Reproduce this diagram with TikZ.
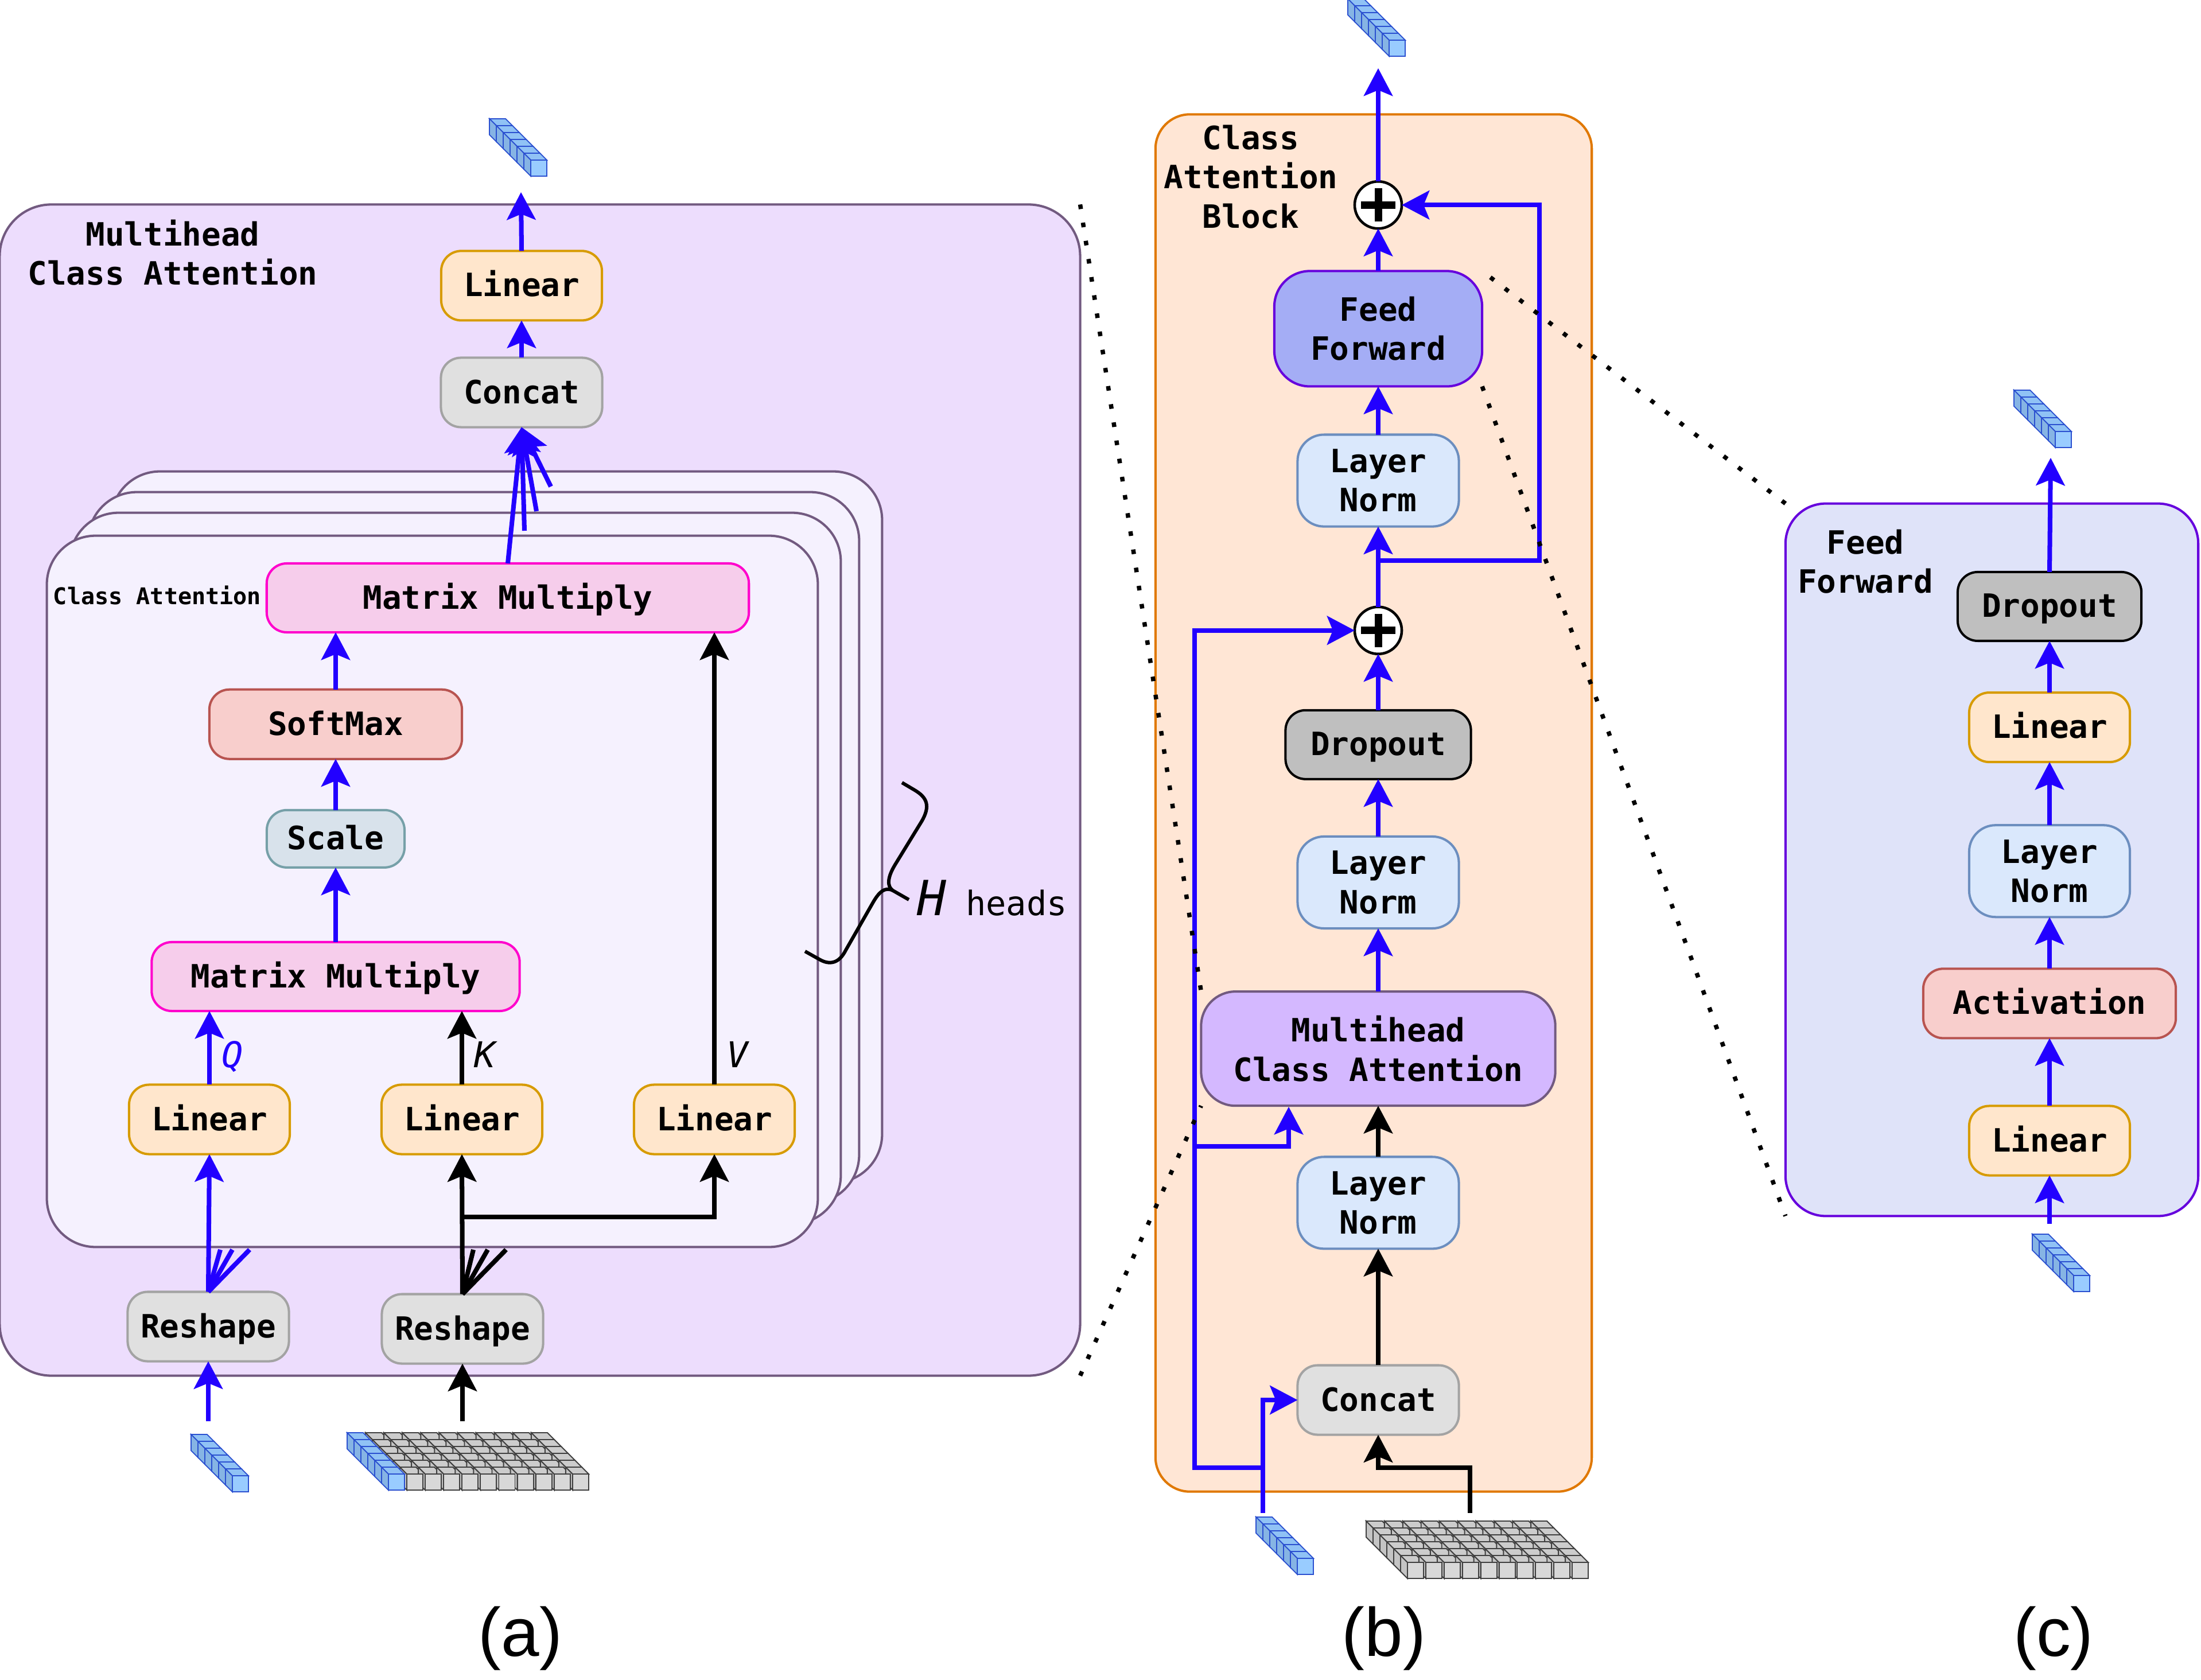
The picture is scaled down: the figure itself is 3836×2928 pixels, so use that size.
\documentclass[tikz,border=0pt]{standalone}
\usepackage{fontspec}
\usepackage{xcolor}
\usetikzlibrary{arrows.meta, positioning}
\newfontfamily\boxfont{DejaVu Sans Mono}
\newfontfamily\capfont{Liberation Sans}
\definecolor{flowblue}{HTML}{2200FF}
\definecolor{outerfill}{HTML}{EDDDFD}
\definecolor{outerline}{HTML}{725A80}
\definecolor{headfill}{HTML}{F5F1FE}
\definecolor{blockfill}{HTML}{FFE6D5}
\definecolor{blockline}{HTML}{E07800}
\definecolor{ffpanel}{HTML}{DFE3F9}
\definecolor{ffline}{HTML}{6600DD}
\definecolor{ffbox}{HTML}{A4ADF5}
\definecolor{mhbox}{HTML}{D4B8FF}
\definecolor{linfill}{HTML}{FFE6CC}
\definecolor{linline}{HTML}{D79B00}
\definecolor{grayfill}{HTML}{E0E0E0}
\definecolor{grayline}{HTML}{A3A3A3}
\definecolor{dropfill}{HTML}{BFBFBF}
\definecolor{mmfill}{HTML}{F6CDEB}
\definecolor{mmline}{HTML}{FF00CC}
\definecolor{softfill}{HTML}{F8CECC}
\definecolor{softline}{HTML}{B85450}
\definecolor{scalefill}{HTML}{D8E2EB}
\definecolor{scaleline}{HTML}{76A0A8}
\definecolor{normfill}{HTML}{DAE8FC}
\definecolor{normline}{HTML}{6C8EBF}
\definecolor{bluetop}{HTML}{90C2F5}
\definecolor{blueside}{HTML}{86B4E4}
\definecolor{bluefront}{HTML}{99CCFF}
\definecolor{blueedge}{HTML}{2B50D0}
\definecolor{graytop}{HTML}{CCCCCC}
\definecolor{grayside}{HTML}{C4C4C4}
\definecolor{grayfront}{HTML}{D8D8D8}
\definecolor{grayedge}{HTML}{404040}

\begin{document}
\begin{tikzpicture}[
  x=0.01cm, y=-0.01cm,
  every node/.style={outer sep=0pt},
  panel/.style={draw, line width=1.15pt, inner sep=0pt},
  box/.style={draw, line width=1.15pt, rounded corners=0.35cm, align=center, inner sep=0pt, font=\boxfont\bfseries\fontsize{15.9}{19.4}\selectfont},
  oneline/.style={text height=0.38cm, text depth=0pt},
  linearbox/.style={box, oneline, fill=linfill, draw=linline, minimum width=2.8cm, minimum height=1.21cm},
  graybox/.style={box, oneline, fill=grayfill, draw=grayline, minimum width=2.81cm, minimum height=1.21cm},
  mmbox/.style={box, oneline, fill=mmfill, draw=mmline, minimum height=1.2cm},
  redbox/.style={box, oneline, fill=softfill, draw=softline, minimum height=1.21cm},
  dropbox/.style={box, oneline, fill=dropfill, draw=black, minimum height=1.2cm},
  normbox/.style={box, fill=normfill, draw=normline, rounded corners=0.46cm, minimum width=2.81cm, minimum height=1.6cm},
  sumnode/.style={circle, draw, fill=white, line width=1.3pt, minimum size=0.82cm, inner sep=0pt,
    path picture={
      \draw[line width=3.7pt] ([xshift=-0.3cm]path picture bounding box.center) -- ([xshift=0.3cm]path picture bounding box.center);
      \draw[line width=3.7pt] ([yshift=-0.29cm]path picture bounding box.center) -- ([yshift=0.29cm]path picture bounding box.center);
    }},
  flow/.style={-{Stealth[length=4.8mm, width=5mm, inset=1mm]}, draw=flowblue, line width=2.28pt},
  flowk/.style={-{Stealth[length=4.8mm, width=5mm, inset=1mm]}, draw=black, line width=2.28pt},
  wire/.style={draw=flowblue, line width=2.28pt},
  wirek/.style={draw=black, line width=2.28pt},
  zoomline/.style={draw=black, line width=0.075cm, dash pattern=on 0.08cm off 0.24cm},
  title/.style={align=center, font=\boxfont\bfseries\fontsize{15.9}{19.4}\selectfont},
  letter/.style={font=\boxfont\itshape\fontsize{17.6}{20}\selectfont},
  subcap/.style={font=\capfont\fontsize{34}{38}\selectfont},
  pics/cubecol/.style={code={
    \foreach \k in {0,...,5} {
      \filldraw[fill=#1top, draw=#1edge, line width=0.5pt] (12*\k,12*\k) -- ++(28,0) -- ++(12,12) -- ++(-28,0) -- cycle;
      \filldraw[fill=#1side, draw=#1edge, line width=0.5pt] (12*\k,12*\k) -- ++(12,12) -- ++(0,28) -- ++(-12,-12) -- cycle;
    }
    \filldraw[fill=#1front, draw=#1edge, line width=0.5pt] (72,72) rectangle (100,100);
  }},
  pics/cubegrid/.style 2 args={code={
    \foreach \k in {0,...,5} {
      \foreach \c in {1,...,#1} {
        \filldraw[fill=grayside, draw=grayedge, line width=0.55pt] ({(\c-1)*#2+12*\k},12*\k) -- ++(12,12) -- ++(0,28) -- ++(-12,-12) -- cycle;
        \filldraw[fill=graytop, draw=grayedge, line width=0.55pt] ({(\c-1)*#2+12*\k},12*\k) -- ++(28,0) -- ++(12,12) -- ++(-28,0) -- cycle;
      }
    }
    \foreach \c in {1,...,#1} {
      \filldraw[fill=grayfront, draw=grayedge, line width=0.55pt] ({(\c-1)*#2+72},72) rectangle ++(28,28);
    }
  }}
]
  \path[use as bounding box, fill=white] (0,0) rectangle (3836,2928);

  \node[panel, fill=outerfill, draw=outerline, rounded corners=0.9cm, minimum width=18.82cm, minimum height=20.4cm] (mhpanel) at (941,1377) {};
  \node[panel, fill=headfill, draw=outerline, rounded corners=0.85cm, minimum width=13.43cm, minimum height=12.39cm] (headd) at (865.5,1441.5) {};
  \node[panel, fill=headfill, draw=outerline, rounded corners=0.85cm, minimum width=13.43cm, minimum height=12.39cm] (headc) at (825.5,1477.5) {};
  \node[panel, fill=headfill, draw=outerline, rounded corners=0.85cm, minimum width=13.43cm, minimum height=12.39cm] (headb) at (793.5,1513.5) {};
  \node[panel, fill=headfill, draw=outerline, rounded corners=0.85cm, minimum width=13.43cm, minimum height=12.39cm] (heada) at (753.5,1553.5) {};
  \node[panel, fill=blockfill, draw=blockline, rounded corners=0.6cm, minimum width=7.6cm, minimum height=23.99cm] (blockpanel) at (2394,1399.5) {};
  \node[panel, fill=ffpanel, draw=ffline, rounded corners=0.7cm, minimum width=7.19cm, minimum height=12.41cm] (ffpanel) at (3471.5,1498.5) {};

  \node[title] (mhtitle) at (301,440) {Multihead\\Class Attention};
  \node[font=\boxfont\bfseries\fontsize{11.4}{14}\selectfont] (catitle) at (274,1037) {Class Attention};
  \node[title] (blocktitle) at (2180,308) {Class\\Attention\\Block};
  \node[title] (fftitle) at (3251,979) {Feed\\Forward};

  \node[linearbox] (linq) at (365,1951) {Linear};
  \node[linearbox] (link) at (805,1951) {Linear};
  \node[linearbox] (linv) at (1245,1951) {Linear};
  \node[mmbox, minimum width=6.41cm] (mmlow) at (585,1702) {Matrix Multiply};
  \node[box, oneline, fill=scalefill, draw=scaleline, minimum width=2.4cm, minimum height=1cm, above=1.3cm of mmlow] (scaleb) {Scale};
  \node[redbox, minimum width=4.4cm, above=0.89cm of scaleb] (softm) {SoftMax};
  \node[mmbox, minimum width=8.4cm] (mmtop) at (885,1042) {Matrix Multiply};
  \node[graybox] (concata) at (909,684) {Concat};
  \node[linearbox, above=0.65cm of concata] (lintop) {Linear};
  \node[graybox] (resq) at (363,2312) {Reshape};
  \node[graybox] (resk) at (806,2316) {Reshape};

  \node[graybox] (concatb) at (2402,2440) {Concat};
  \node[normbox, above=2.03cm of concatb] (normlow) {Layer\\Norm};
  \node[box, fill=mhbox, draw=outerline, rounded corners=0.6cm, minimum width=6.17cm, minimum height=1.99cm, above=0.89cm of normlow] (mhb) {Multihead\\Class Attention};
  \node[normbox, above=1.1cm of mhb] (normmid) {Layer\\Norm};
  \node[dropbox, minimum width=3.23cm, above=1cm of normmid] (dropb) {Dropout};
  \node[sumnode, above=0.98cm of dropb] (sumlow) {};
  \node[normbox, above=1.4cm of sumlow] (normtop) {Layer\\Norm};
  \node[box, fill=ffbox, draw=ffline, rounded corners=0.62cm, minimum width=3.62cm, minimum height=2.01cm, above=0.84cm of normtop] (ffb) {Feed\\Forward};
  \node[sumnode, above=0.74cm of ffb] (sumtop) {};

  \node[linearbox] (linca) at (3572,1988) {Linear};
  \node[redbox, minimum width=4.4cm, above=1.18cm of linca] (activ) {Activation};
  \node[normbox, minimum width=2.8cm, above=0.9cm of activ] (normc) {Layer\\Norm};
  \node[linearbox, above=1.1cm of normc] (lincb) {Linear};
  \node[dropbox, minimum width=3.2cm, above=0.9cm of lincb] (dropc) {Dropout};

  \pic at (853,207) {cubecol=blue};
  \pic at (333,2500) {cubecol=blue};
  \pic at (637,2497) {cubegrid={10}{32.1}};
  \pic at (605,2497) {cubecol=blue};
  \pic at (2349,-2) {cubecol=blue};
  \pic at (2189,2644) {cubecol=blue};
  \pic at (2381,2651) {cubegrid={10}{31.9}};
  \pic at (3510,680) {cubecol=blue};
  \pic at (3542,2151) {cubecol=blue};

  \coordinate (outa) at (908,335);
  \coordinate (ina) at (363,2477);
  \coordinate (inka) at (806,2477);
  \coordinate (splitk) at (805,2121);
  \coordinate (hiddena) at (914,925);
  \coordinate (hiddenb) at (935,891);
  \coordinate (hiddenc) at (960,848);
  \coordinate (fanqa) at (384,2178);
  \coordinate (fanqb) at (405,2178);
  \coordinate (fanqc) at (435,2178);
  \coordinate (fanka) at (825,2178);
  \coordinate (fankb) at (850,2178);
  \coordinate (fankc) at (882,2178);

  \draw[flow] (lintop.north) -- (outa);
  \draw[flow] (concata.north) -- (lintop.south);
  \draw[flow] (mmtop.north) -- (concata.south);
  \draw[flow] (hiddena) -- (concata.south);
  \draw[flow] (hiddenb) -- (concata.south);
  \draw[flow] (hiddenc) -- (concata.south);
  \draw[flow] (softm.north) -- (softm.north |- mmtop.south);
  \draw[flow] (scaleb.north) -- (softm.south);
  \draw[flow] (mmlow.north) -- (scaleb.south);
  \draw[flow] (linq.north) -- (linq.north |- mmlow.south);
  \draw[flowk] (link.north) -- (link.north |- mmlow.south);
  \draw[flowk] (linv.north) -- (linv.north |- mmtop.south);
  \draw[flow] (resq.north) -- (linq.south);
  \draw[flowk] (resk.north) -- (link.south);
  \draw[flowk] (splitk) -| (linv.south);
  \draw[flow] (ina) -- (resq.south);
  \draw[flowk] (inka) -- (resk.south);
  \draw[wire] (resq.north) -- (fanqa);
  \draw[wire] (resq.north) -- (fanqb);
  \draw[wire] (resq.north) -- (fanqc);
  \draw[wirek] (resk.north) -- (fanka);
  \draw[wirek] (resk.north) -- (fankb);
  \draw[wirek] (resk.north) -- (fankc);

  \node[letter, text=flowblue] (qlabel) at (405,1842) {Q};
  \node[letter] (klabel) at (845,1838) {K};
  \node[letter] (vlabel) at (1285,1838) {V};

  \draw[line width=1.7pt] (1572,1364) -- (1594,1377) .. controls (1616,1390) and (1622,1405) .. (1606,1432) -- (1560,1507) .. controls (1546,1530) and (1546,1545) .. (1556,1552) -- (1584,1568);
  \draw[line width=1.7pt] (1403,1658) -- (1428,1672) .. controls (1445,1682) and (1462,1680) .. (1474,1656) -- (1522,1572) .. controls (1532,1555) and (1542,1545) .. (1556,1552);
  \node[anchor=base west, inner sep=0pt, font=\boxfont\itshape\fontsize{24}{28}\selectfont] (hsym) at (1598,1595) {H};
  \node[anchor=base west, inner sep=0pt, font=\boxfont\fontsize{16.7}{20}\selectfont] (hword) at (1683,1595) {heads};

  \coordinate (outb) at (2402,119);
  \coordinate (inb) at (2201,2637);
  \coordinate (gridout) at (2562,2637);
  \coordinate (gridturn) at (2402,2558);
  \coordinate (tapb) at (2201,2558);
  \coordinate (railx) at (2082,0);
  \coordinate (railb) at (railx |- sumlow.west);
  \coordinate (railtap) at (2082,1998);
  \coordinate (mhin) at (2246,1929);
  \coordinate (tapskip) at (2402,977);
  \coordinate (turnx) at (2683,0);
  \coordinate (turnskip) at (turnx |- sumtop.east);

  \draw[flowk] (gridout) |- (gridturn) -- (concatb.south);
  \draw[flowk] (concatb.north) -- (normlow.south);
  \draw[flowk] (normlow.north) -- (mhb.south);
  \draw[flow] (inb) |- (concatb.west);
  \draw[flow] (tapb) -| (railb) -- (sumlow.west);
  \draw[flow] (railtap) -| (mhin);
  \draw[flow] (mhb.north) -- (normmid.south);
  \draw[flow] (normmid.north) -- (dropb.south);
  \draw[flow] (dropb.north) -- (sumlow.south);
  \draw[flow] (sumlow.north) -- (normtop.south);
  \draw[flow] (normtop.north) -- (ffb.south);
  \draw[flow] (ffb.north) -- (sumtop.south);
  \draw[flow] (sumtop.north) -- (outb);
  \draw[flow] (tapskip) -| (turnskip) -- (sumtop.east);

  \coordinate (outc) at (3574,798);
  \coordinate (inc) at (3572,2133);
  \draw[flow] (inc) -- (linca.south);
  \draw[flow] (linca.north) -- (activ.south);
  \draw[flow] (activ.north) -- (normc.south);
  \draw[flow] (normc.north) -- (lincb.south);
  \draw[flow] (lincb.north) -- (dropc.south);
  \draw[flow] (dropc.north) -- (outc);

  \draw[zoomline] (mhpanel.north east) -- (mhb.north west);
  \draw[zoomline] (mhpanel.south east) -- (mhb.south west);
  \draw[zoomline, shorten <=0.18cm] (ffb.north east) -- (ffpanel.north west);
  \draw[zoomline] (ffb.south east) -- (ffpanel.south west);

  \node[subcap] (capa) at (907,2856) {(a)};
  \node[subcap] (capb) at (2412,2856) {(b)};
  \node[subcap] (capc) at (3579,2856) {(c)};
\end{tikzpicture}
\end{document}
